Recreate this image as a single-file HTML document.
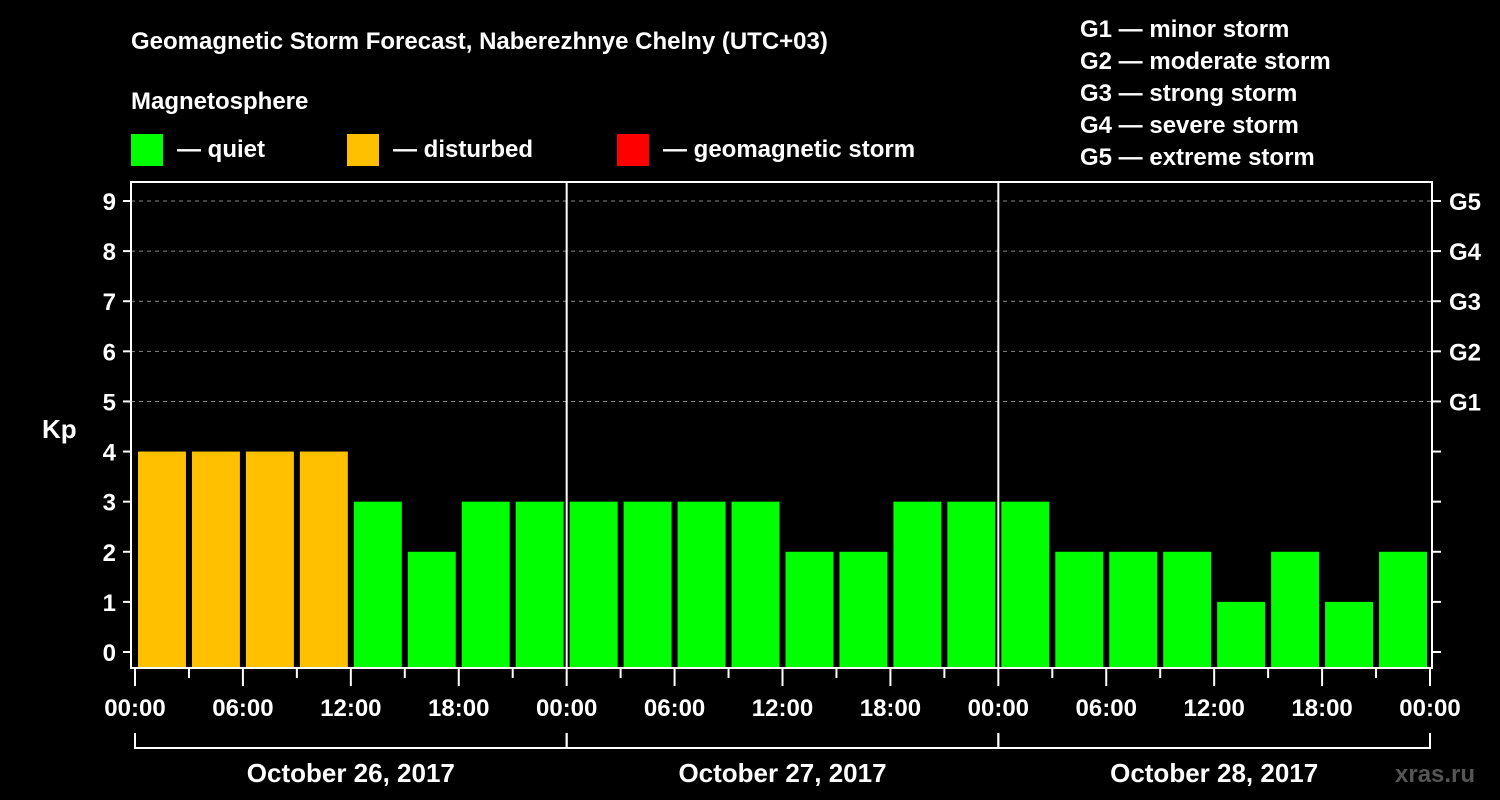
<!DOCTYPE html>
<html><head><meta charset="utf-8"><style>
html,body{margin:0;padding:0;background:#000;}
svg{display:block;font-family:"Liberation Sans",Arial,sans-serif;font-weight:bold;}
</style></head><body>
<svg id="chart" width="1500" height="800" viewBox="0 0 1500 800">
<rect width="1500" height="800" fill="#000"/>
<text x="131" y="49" fill="#fff" font-size="24">Geomagnetic Storm Forecast, Naberezhnye Chelny (UTC+03)</text>
<text x="131" y="109" fill="#fff" font-size="24">Magnetosphere</text>
<g><rect x="131" y="134" width="32" height="32" fill="#00ff00"/><text x="177" y="157" fill="#fff" font-size="24">— quiet</text></g>
<g><rect x="347" y="134" width="32" height="32" fill="#ffc000"/><text x="393" y="157" fill="#fff" font-size="24">— disturbed</text></g>
<g><rect x="617" y="134" width="32" height="32" fill="#ff0000"/><text x="663" y="157" fill="#fff" font-size="24">— geomagnetic storm</text></g>
<g fill="#fff" font-size="24">
<text x="1080" y="37">G1 — minor storm</text>
<text x="1080" y="69">G2 — moderate storm</text>
<text x="1080" y="101">G3 — strong storm</text>
<text x="1080" y="133">G4 — severe storm</text>
<text x="1080" y="165">G5 — extreme storm</text>
</g>
<text x="42" y="438" fill="#fff" font-size="26">Kp</text>
<text x="1395" y="782" fill="#555" font-size="24">xras.ru</text>
<g id="grid"></g>
<g id="bars"></g>
<g id="axes"></g>
</svg>
<script>
const kpValues=[4,4,4,4,3,2,3,3, 3,3,3,3,2,2,3,3, 3,2,2,2,1,2,1,2];
const kpColors=["#ffc000","#ffc000","#ffc000","#ffc000","#00ff00","#00ff00","#00ff00","#00ff00","#00ff00","#00ff00","#00ff00","#00ff00","#00ff00","#00ff00","#00ff00","#00ff00","#00ff00","#00ff00","#00ff00","#00ff00","#00ff00","#00ff00","#00ff00","#00ff00"];
const yTicks=[0,1,2,3,4,5,6,7,8,9];
const gLabels=["G1","G2","G3","G4","G5"];
const gLevels=[5,6,7,8,9];
const timeLabels=["00:00","06:00","12:00","18:00","00:00","06:00","12:00","18:00","00:00","06:00","12:00","18:00","00:00"];
const dayLabels=["October 26, 2017","October 27, 2017","October 28, 2017"];
const NS="http://www.w3.org/2000/svg";
const X0=135,X1=1430,HOURS=72,Y0=652,Y9=201,BOTTOM=668,TOP=182;
const xs=h=>X0+(X1-X0)*h/HOURS;
const ys=v=>Y0+(Y9-Y0)*v/9;
function mk(tag,attrs,parent){const e=document.createElementNS(NS,tag);for(const k in attrs)e.setAttribute(k,attrs[k]);document.getElementById(parent).appendChild(e);return e;}
gLevels.forEach((v,i)=>{
 const l=mk('line',{x1:131,x2:1432,y1:ys(v),y2:ys(v),stroke:'#888','stroke-dasharray':'4,4','stroke-width':1},'grid');
 
 
});
kpValues.forEach((v,i)=>{
 const x=xs(i*3)+3,w=xs(3)-X0-6,y=ys(v);
 const r=mk('rect',{x:x,y:y,width:w,height:BOTTOM-y,fill:kpColors[i]},'bars');
 
 
});
[24,48].forEach(h=>{
 const l=mk('line',{x1:xs(h),x2:xs(h),y1:TOP,y2:BOTTOM,stroke:'#fff','stroke-width':2},'axes');
 
 
});
const frame=mk('rect',{x:131,y:TOP,width:1301,height:BOTTOM-TOP,fill:'none',stroke:'#fff','stroke-width':2},'axes');


yTicks.forEach(v=>{
 mk('line',{x1:123,x2:131,y1:ys(v),y2:ys(v),stroke:'#fff','stroke-width':2},'axes');
 mk('line',{x1:1432,x2:1441,y1:ys(v),y2:ys(v),stroke:'#fff','stroke-width':2},'axes');
 const t=mk('text',{x:116,y:ys(v)+9,fill:'#fff','font-size':24,'text-anchor':'end'},'axes');
 t.textContent=v;
 
 
});
gLabels.forEach((g,i)=>{
 const t=mk('text',{x:1449,y:ys(gLevels[i])+9,fill:'#fff','font-size':24},'axes');
 t.textContent=g;
 
 
});
for(let h=0;h<=HOURS;h+=3){
 const major=h%6===0;
 mk('line',{x1:xs(h),x2:xs(h),y1:669,y2:major?686:678,stroke:'#fff','stroke-width':2},'axes');
}
timeLabels.forEach((s,i)=>{
 const t=mk('text',{x:xs(i*6),y:716,fill:'#fff','font-size':24,'text-anchor':'middle'},'axes');
 t.textContent=s;
 
 
});
dayLabels.forEach((s,i)=>{
 const a=xs(i*24),b=xs(i*24+24);
 mk('path',{d:`M${a} 733V748H${b}V733`,fill:'none',stroke:'#fff','stroke-width':2},'axes');
 const t=mk('text',{x:(a+b)/2,y:782,fill:'#fff','font-size':26,'text-anchor':'middle'},'axes');
 t.textContent=s;
 
 
});
</script>
</body></html>
